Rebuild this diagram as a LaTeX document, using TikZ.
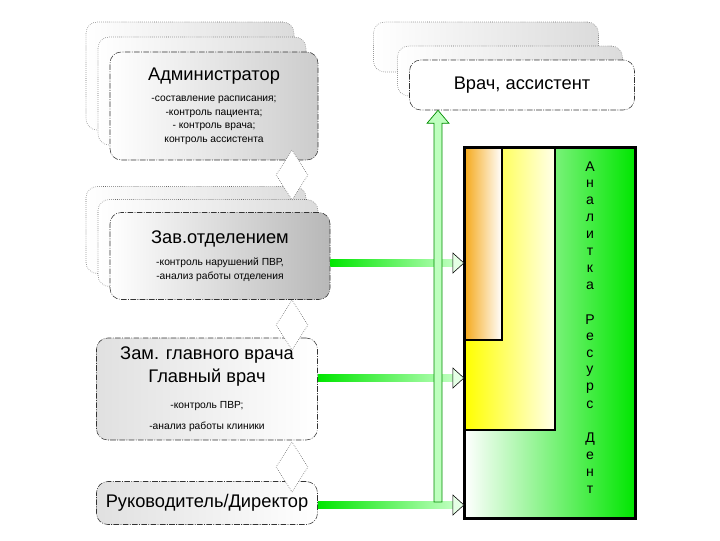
\documentclass[tikz,border=0pt]{standalone}
\usepackage{fontspec}
\setmainfont{Liberation Sans}
\usetikzlibrary{shapes.geometric,positioning,calc}
\newcommand{\pxl}{0.025cm}
\newcommand{\bigfont}{\fontsize{13}{15.5}\selectfont}
\definecolor{brightgreen}{RGB}{0,230,0}
\definecolor{palegreen}{RGB}{190,255,190}
\definecolor{deeporange}{RGB}{245,170,30}

\begin{document}
\begin{tikzpicture}[x=0.025cm,y=-0.025cm,
    role/.style={draw=black!80, line width=0.4pt, dash pattern=on 4pt off 1pt on 0.6pt off 1pt,
      rounded corners=8pt, left color=white, right color=black!20, align=center,
      font=\fontsize{7.3}{9.6}\selectfont, inner sep=0pt},
    ghost/.style={draw=black!60, densely dotted, rounded corners=8pt, left color=white, right color=black!14},
    link/.style={diamond, draw=black!70, densely dotted, minimum width=32*\pxl, minimum height=50*\pxl,
      inner sep=0pt, fill=white},
    zone/.style={draw, line width=1.6pt, inner sep=0pt, anchor=north west},
    head/.style={draw=black, line width=0.4pt, fill=palegreen!40}]
  \useasboundingbox (0,0) rectangle (720,540);

  % shadows behind the upper boxes
  \node[ghost, minimum width=208*\pxl, minimum height=108*\pxl] (adm-g2) at (190,76) {};
  \node[ghost, minimum width=208*\pxl, minimum height=108*\pxl] (adm-g1) at (202,91) {};
  \node[ghost, minimum width=225*\pxl, minimum height=50*\pxl] (doc-g2) at (486,47) {};
  \node[ghost, minimum width=225*\pxl, minimum height=50*\pxl] (doc-g1) at (510,71) {};
  \node[ghost, minimum width=220*\pxl, minimum height=87*\pxl] (zav-g2) at (196,230) {};
  \node[ghost, minimum width=220*\pxl, minimum height=87*\pxl] (zav-g1) at (208,243) {};

  % roles
  \node[role, minimum width=208*\pxl, minimum height=108*\pxl] (adm) at (214,106)
    {\bigfont Администратор\\[6pt] -составление расписания;\\-контроль пациента;\\- контроль врача;\\контроль ассистента};
  \node[role, minimum width=225*\pxl, minimum height=50*\pxl, right color=white] (doc) at (522,85)
    {\bigfont Врач, ассистент};
  \node[role, minimum width=220*\pxl, minimum height=87*\pxl, right color=black!28] (zav) at (220,256)
    {\bigfont Зав.отделением\\[6pt] -контроль нарушений ПВР,\\-анализ работы отделения};
  \node[role, minimum width=221*\pxl, minimum height=102*\pxl, left color=black!12, right color=white] (zam) at (207,389)
    {\bigfont Зам. главного врача\\[3pt] \bigfont Главный врач\\[9pt] -контроль ПВР;\\[5pt] -анализ работы клиники};
  \node[role, minimum width=221*\pxl, minimum height=43*\pxl, left color=black!12, right color=white] (ruk) at (207,503)
    {\bigfont Руководитель/Директор};

  % links between roles
  \node[link] (l1) at (292,175) {};
  \node[link] (l2) at (292,325) {};
  \node[link] (l3) at (292,467) {};

  % resource block
  \node[zone, minimum width=170*\pxl, minimum height=370*\pxl, left color=white, right color=brightgreen,
    anchor=center] (res) at (550,333) {};
  \node[zone, minimum width=90*\pxl, minimum height=282*\pxl, left color=yellow, right color=yellow!8]
    (yel) at (res.north west) {};
  \node[zone, minimum width=37*\pxl, minimum height=192*\pxl, left color=deeporange, right color=white]
    (ora) at (res.north west) {};
  \draw[line width=1.6pt] (res.north west) rectangle (res.south east);
  \foreach \ch [count=\i] in {А,н,а,л,и,т,к,а,,Р,е,с,у,р,с,,Д,е,н,т}
    \node[font=\fontsize{10}{11}\selectfont, inner sep=0pt] (ch\i) at (590,{167+17*(\i-1)}) {\ch};

  % flows into the resource block
  \foreach \src/\yy in {zav/263,zam/378,ruk/505} {
    \coordinate (\src-out) at (\src.east |- 0,\yy);
    \coordinate (\src-in) at (res.west |- 0,\yy);
    \shade[left color=brightgreen, right color=palegreen] ($(\src-out)+(0,-3.5)$) rectangle ($(\src-in)+(-11,3.5)$);
    \draw[head] ($(\src-in)+(-11,-10)$) -- (\src-in) -- ($(\src-in)+(-11,10)$) -- cycle;
  }

  % flow up to the doctor
  \coordinate (up-foot) at (438,502);
  \coordinate (up-tip) at (doc.south -| up-foot);
  \draw[draw=green!55!black, fill=palegreen, line width=0.5pt]
    ($(up-foot)+(-4,0)$) -- ($(up-tip)+(-4,13)$) -- ($(up-tip)+(-11,13)$) -- (up-tip)
    -- ($(up-tip)+(11,13)$) -- ($(up-tip)+(4,13)$) -- ($(up-foot)+(4,0)$) -- cycle;
\end{tikzpicture}
\end{document}
